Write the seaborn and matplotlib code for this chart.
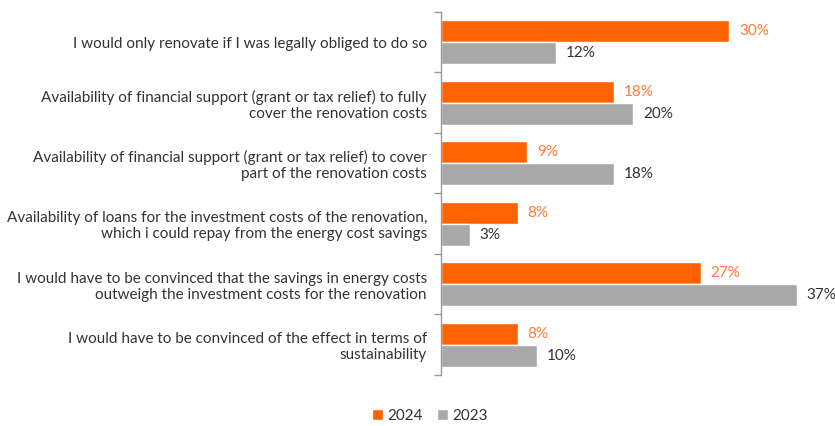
import matplotlib
matplotlib.use("Agg")
import matplotlib.pyplot as plt
import seaborn as sns
import pandas as pd
import numpy as np
from matplotlib.patches import Patch

categories = [
    "I would only renovate if I was legally obliged to do so",
    "Availability of financial support (grant or tax relief) to fully\ncover the renovation costs",
    "Availability of financial support (grant or tax relief) to cover\npart of the renovation costs",
    "Availability of loans for the investment costs of the renovation,\nwhich i could repay from the energy cost savings",
    "I would have to be convinced that the savings in energy costs\noutweigh the investment costs for the renovation",
    "I would have to be convinced of the effect in terms of\nsustainability",
]
values_2024 = [30, 18, 9, 8, 27, 8]
values_2023 = [12, 20, 18, 3, 37, 10]
series = ["2024", "2023"]

orange = "#FF6200"
grey = "#A8A8A8"
label_orange = "#FF7A33"
text_dark = "#333333"

df = pd.DataFrame({
    "category": categories * 2,
    "year": [series[0]] * len(categories) + [series[1]] * len(categories),
    "value": values_2024 + values_2023,
})

sns.set_theme(style="white")
plt.rcParams["font.family"] = ["Lato", "DejaVu Sans"]

fig = plt.figure(figsize=(8.35, 4.26), dpi=100)
ax = fig.add_axes([0.528, 0.12, 0.47, 0.852])

sns.barplot(
    data=df, y="category", x="value", hue="year", orient="h",
    palette={series[0]: orange, series[1]: grey}, width=0.73,
    saturation=1, ax=ax, legend=False,
)

ax.set_xlim(0, 40.8)
ax.set_ylim(len(categories) - 0.5, -0.5)
ax.set_xlabel("")
ax.set_ylabel("")
ax.set_xticks([])

for s in ["top", "right", "bottom"]:
    ax.spines[s].set_visible(False)
ax.spines["left"].set_color("#9A9A9A")
ax.spines["left"].set_linewidth(1.0)

# Category labels on major ticks (no marks); boundary marks on minor ticks
ax.set_yticks(range(len(categories)))
ax.set_yticklabels(categories, fontsize=11, color=text_dark, linespacing=1.2)
ax.tick_params(axis="y", which="major", length=0, pad=10)
ax.set_yticks(np.arange(-0.5, len(categories), 1.0), minor=True)
ax.tick_params(axis="y", which="minor", length=5, width=1.0,
               color="#9A9A9A", direction="out", left=True)

# Value labels
for cont, col in zip(ax.containers, [label_orange, text_dark]):
    labels = [f"{v:.0f}%" for v in cont.datavalues]
    ax.bar_label(cont, labels=labels, padding=7, fontsize=11, color=col)

# Legend below the chart
handles = [Patch(facecolor=orange, label=series[0]),
           Patch(facecolor=grey, label=series[1])]
fig.legend(handles=handles, loc="lower center", bbox_to_anchor=(0.515, -0.025),
           ncol=2, frameon=False, fontsize=11, handlelength=0.7,
           handleheight=0.7, handletextpad=0.3, columnspacing=0.9,
           labelcolor=text_dark)

fig.savefig("out.png", dpi=100)
